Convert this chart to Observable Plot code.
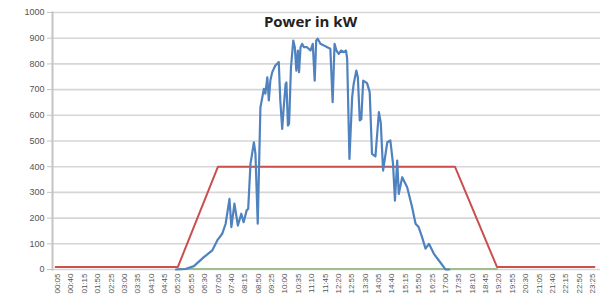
<!DOCTYPE html>
<html><head><meta charset="utf-8">
<script src="https://cdn.jsdelivr.net/npm/d3@7"></script>
<script src="https://cdn.jsdelivr.net/npm/@observablehq/plot@0.6"></script>
<style>body{margin:0;background:#fff}</style>
</head><body><div id="chart"></div>
<script>
const title = "Power in kW";
const yTicks = [0,100,200,300,400,500,600,700,800,900,1000];
const xTickLabels = ["00:05","00:40","01:15","01:50","02:25","03:00","03:35","04:10","04:45","05:20","05:55","06:30","07:05","07:40","08:15","08:50","09:25","10:00","10:35","11:10","11:45","12:20","12:55","13:30","14:05","14:40","15:15","15:50","16:25","17:00","17:35","18:10","18:45","19:20","19:55","20:30","21:05","21:40","22:15","22:50","23:25"];

const redTimes  = ["00:00","05:20","07:05","17:25","19:15","23:30"];
const redValues = [10,10,400,400,10,10];

const greenTimes  = ["05:20","19:15"];
const greenValues = [2,2];

const blueTimes = ["05:15","05:40","06:02","06:28","06:50","07:03","07:16","07:25","07:35","07:40","07:48","07:57","08:06","08:12","08:20","08:24","08:30","08:39","08:43","08:49","08:56","09:01","09:05","09:09","09:14","09:18","09:22","09:27","09:35","09:44","09:48","09:53","09:57","10:02","10:04","10:08","10:11","10:16","10:22","10:26","10:30","10:34","10:37","10:41","10:45","10:50","10:58","11:07","11:13","11:18","11:22","11:26","11:33","11:42","11:51","11:59","12:05","12:10","12:15","12:21","12:27","12:34","12:40","12:43","12:49","12:56","13:00","13:07","13:11","13:16","13:20","13:25","13:35","13:42","13:48","13:57","14:06","14:11","14:17","14:28","14:36","14:43","14:48","14:54","14:58","15:07","15:20","15:33","15:42","15:50","15:59","16:08","16:17","16:30","16:43","16:56","17:00","17:10"];
const blueValues = [0,2,13,48,74,113,139,178,275,165,256,171,217,184,230,236,411,495,450,178,631,670,703,684,748,658,735,768,794,807,658,547,631,722,728,560,567,787,891,865,774,852,768,865,878,865,865,852,878,735,891,898,878,872,865,859,651,878,852,839,852,846,852,820,430,670,722,774,748,580,585,735,725,690,450,440,612,570,385,495,502,411,268,424,294,359,320,242,178,165,126,81,100,61,35,9,0,0];

const toMin = s => +s.slice(0,2) * 60 + +s.slice(3);
const mk = (ts, vs) => ts.map((t, i) => ({t: toMin(t), v: vs[i]}));
const red = mk(redTimes, redValues);
const green = mk(greenTimes, greenValues);
const blue = mk(blueTimes, blueValues);
const xTicks = xTickLabels.map(toMin);
const labelOf = new Map(xTicks.map((m, i) => [m, xTickLabels[i]]));

const chart = Plot.plot({
  width: 600, height: 299,
  marginLeft: 52, marginRight: 0, marginTop: 12, marginBottom: 30,
  style: {background: "#fff", fontFamily: "'Liberation Sans', Arial, sans-serif", overflow: "hidden"},
  x: {type: "linear", domain: [5, 1405], range: [57, 592]},
  y: {domain: [0, 1000]},
  marks: [
    Plot.gridY(yTicks, {stroke: "#d6d6d6", strokeOpacity: 1, strokeWidth: 1.6}),
    Plot.frame({anchor: "left", stroke: "#c4c4c4", strokeWidth: 2}),
    Plot.axisY(yTicks, {tickSize: 5, tickPadding: 3, fontSize: 9, fill: "#555", stroke: "#c4c4c4", tickFormat: d => String(d), label: null}),
    Plot.axisX(xTicks, {tickFormat: d => labelOf.get(d), tickRotate: -90, tickSize: 0, tickPadding: 4, fontSize: 8, fill: "#555", label: null}),
    Plot.line(green, {x: "t", y: "v", stroke: "#9cbf8e", strokeWidth: 2}),
    Plot.line(red, {x: "t", y: "v", stroke: "#c9504c", strokeWidth: 2}),
    Plot.line(blue, {x: "t", y: "v", stroke: "#4f82bf", strokeWidth: 2.2, strokeLinejoin: "round"}),
    Plot.text([title], {frameAnchor: "top", dx: -16, dy: 4, fontWeight: "bold", fontSize: 15, fontFamily: "'Open Sans', sans-serif", fill: "#222"})
  ]
});
document.getElementById("chart").append(chart);
</script>
</body></html>
